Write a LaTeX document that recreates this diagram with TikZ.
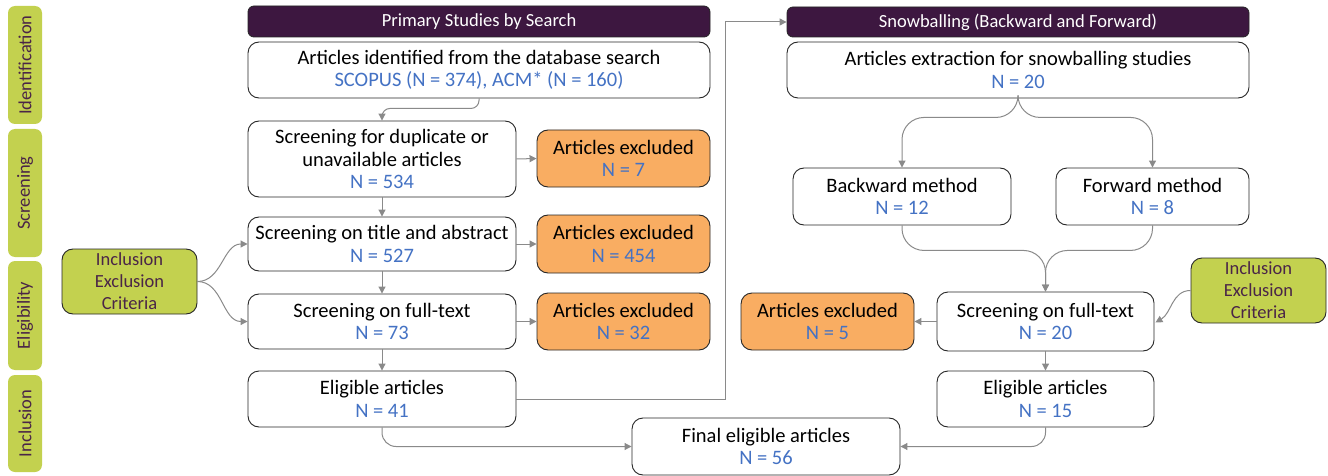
\documentclass[tikz,border=0pt]{standalone}
\usepackage{fontspec}
\setmainfont{Carlito}
\usetikzlibrary{arrows.meta,calc}
\definecolor{stage}{HTML}{C3D14F}
\definecolor{hdr}{HTML}{3D1740}
\definecolor{exc}{HTML}{F9AD62}
\definecolor{nblue}{HTML}{4472C4}
\definecolor{ptxt}{HTML}{4A2547}
\definecolor{conn}{HTML}{8A8A8A}
\newcommand{\nn}[1]{\textcolor{nblue}{#1}}
\begin{document}
\begin{tikzpicture}[x=1pt,y=1pt,
  box/.style={draw=black!85, line width=0.9pt, rounded corners=11pt, fill=white, align=center, inner sep=0pt, font=\fontsize{20.5}{22.5}\selectfont},
  exbox/.style={box, fill=exc},
  hdrbox/.style={fill=hdr, draw=black!85, line width=0.8pt, rounded corners=6pt, text=white, inner sep=0pt, font=\fontsize{18.5}{20}\selectfont},
  stagebox/.style={fill=stage, rounded corners=7pt, rotate=90, text=ptxt, inner sep=0pt, font=\fontsize{18.5}{20}\selectfont},
  critbox/.style={fill=stage, draw=black!85, line width=0.9pt, rounded corners=11pt, text=ptxt, align=center, inner sep=0pt, font=\fontsize{18.5}{22}\selectfont},
  arr/.style={draw=conn, line width=1pt, -{Triangle[width=7pt,length=7pt]}}
]
\useasboundingbox (0,0) rectangle (1328,-476);

% stage labels
\node[stagebox, minimum width=118pt, minimum height=34pt] (sid) at (25,-65) {Identification};
\node[stagebox, minimum width=128pt, minimum height=34pt] (ssc) at (25,-193) {Screening};
\node[stagebox, minimum width=109pt, minimum height=34pt] (sel) at (25,-315.5) {Eligibility};
\node[stagebox, minimum width=97pt, minimum height=34pt] (sin) at (25,-423.5) {Inclusion};

% left criteria
\node[critbox, minimum width=135pt, minimum height=65pt] (critL) at (129.5,-281.5) {Inclusion\\Exclusion\\Criteria};

% primary studies column
\node[hdrbox, minimum width=462pt, minimum height=31pt] (hdr1) at (479,-21.5) {Primary Studies by Search};
\node[box, minimum width=462pt, minimum height=56pt] (b1) at (479,-70) {Articles identified from the database search\\\nn{SCOPUS (N = 374), ACM* (N = 160)}};
\node[box, minimum width=268pt, minimum height=76pt] (b2) at (382,-159) {Screening for duplicate or\\unavailable articles\\\nn{N = 534}};
\node[exbox, minimum width=173pt, minimum height=57pt] (e1) at (623.5,-158.5) {Articles excluded\\\nn{N = 7}};
\node[box, minimum width=268pt, minimum height=54pt] (b3) at (382,-244) {Screening on title and abstract\\\nn{N = 527}};
\node[exbox, minimum width=173pt, minimum height=58pt] (e2) at (623.5,-244) {Articles excluded\\\nn{N = 454}};
\node[box, minimum width=268pt, minimum height=55pt] (b4) at (382,-321.5) {Screening on full-text\\\nn{N = 73}};
\node[exbox, minimum width=173pt, minimum height=57pt] (e3) at (623.5,-321.5) {Articles excluded\\\nn{N = 32}};
\node[box, minimum width=268pt, minimum height=56pt] (b5) at (382,-399) {Eligible articles\\\nn{N = 41}};

% snowballing column
\node[hdrbox, minimum width=462pt, minimum height=30pt] (hdr2) at (1018,-22) {Snowballing (Backward and Forward)};
\node[box, minimum width=462pt, minimum height=56pt] (s1) at (1018,-70) {Articles extraction for snowballing studies\\\nn{N = 20}};
\node[box, minimum width=218pt, minimum height=57pt] (bw) at (902,-196.5) {Backward method\\\nn{N = 12}};
\node[box, minimum width=193pt, minimum height=57pt] (fw) at (1152.5,-196.5) {Forward method\\\nn{N = 8}};
\node[box, minimum width=217pt, minimum height=59pt] (s2) at (1045.5,-321.5) {Screening on full-text\\\nn{N = 20}};
\node[exbox, minimum width=173pt, minimum height=57pt] (e4) at (827.5,-321.5) {Articles excluded\\\nn{N = 5}};
\node[critbox, minimum width=135pt, minimum height=65pt] (critR) at (1258.5,-290.5) {Inclusion\\Exclusion\\Criteria};
\node[box, minimum width=217pt, minimum height=56pt] (s3) at (1045.5,-399) {Eligible articles\\\nn{N = 15}};
\node[box, minimum width=268pt, minimum height=57pt] (fin) at (766,-446.5) {Final eligible articles\\\nn{N = 56}};

\coordinate (jog) at (725,-210);

% connectors left
\draw[arr, rounded corners=8pt] (b1.south) -- ++(0,-10) -| (b2.north);
\draw[arr] (b2.east) -- (e1.west);
\draw[arr] (b2.south) -- (b3.north);
\draw[arr] (b3.east) -- (e2.west);
\draw[arr] (b3.south) -- (b4.north);
\draw[arr] (b4.east) -- (e3.west);
\draw[arr] (b4.south) -- (b5.north);
\draw[arr] (critL.east) to[out=0,in=180] (b3.west);
\draw[arr] (critL.east) to[out=0,in=180] (b4.west);
\draw[arr] (b5.east) -- (b5.east -| jog) -- (jog |- hdr2.west) -- (hdr2.west);
\draw[arr, rounded corners=14pt] (b5.south) |- (fin.west);

% connectors right
\draw[arr, rounded corners=22pt] (s1.south) -- ++(0,-19) -| (bw.north);
\draw[arr, rounded corners=22pt] (s1.south) -- ++(0,-19) -| (fw.north);
\draw[arr, rounded corners=22pt] (bw.south) -- ++(0,-25) -| (s2.north);
\draw[arr, rounded corners=22pt] (fw.south) -- ++(0,-25) -| (s2.north);
\draw[arr] (s2.west) -- (e4.east);
\draw[arr] (critR.west) to[out=180,in=30] ($(s2.east)+(1,-1)$);
\draw[arr] (s2.south) -- (s3.north);
\draw[arr, rounded corners=14pt] (s3.south) |- (fin.east);
\end{tikzpicture}
\end{document}
